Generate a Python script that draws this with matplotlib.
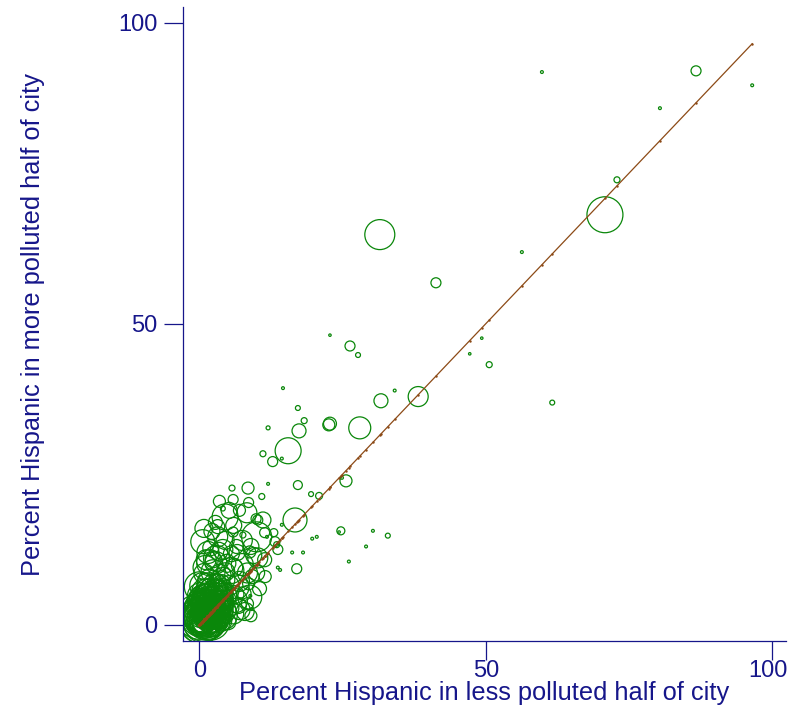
import numpy as np
import matplotlib.pyplot as plt
from matplotlib.transforms import ScaledTranslation

# % Hispanic in less / more polluted half of each city, and marker weight (city size)
pct_less = [
    59.8, 86.7, 96.5, 80.4, 72.9, 70.8, 56.3, 31.5, 41.3, 26.3,
    27.7, 22.8, 49.3, 47.2, 50.6, 34.1, 31.7, 38.2, 61.6, 14.6,
    17.2, 18.3, 22.8, 22.6, 28.0, 12.0, 17.4, 15.5, 11.1, 12.8,
    14.4, 25.6, 24.9, 12.0, 17.2, 19.5, 20.9, 10.9, 16.7, 14.4,
    24.7, 24.4, 30.3, 32.9, 29.1, 19.7, 20.5, 16.2, 18.1, 26.1,
    17.0, 13.7, 11.8, 11.1, 13.0, 13.5, 13.7, 11.4, 10.0,
    5.7, 8.5, 5.9, 4.1, 8.6, 4.5, 8.3, 9.9, 10.2, 3.2,
    0.6, 3.2, 5.9, 10.0, 7.6, 11.4, 13.2, 4.1, 6.6, 8.8,
    10.2, 2.4,
    8.8, 7.1, 4.1, 6.6, 1.8, 0.0, 8.4, 9.0, 8.9, 9.1, 14.1,
    0.3, 0.8, 1.2, 0.5, 1.8, 2.2, 1.5, 0.2, 2.8, 3.2,
    0.9, 2.0, 0.1, 1.0, 1.6, 2.5, 0.6, 3.0, 3.8, 2.7,
    1.3, 0.4, 1.9, 0.7, 1.4, 2.3, 1.1, 1.7, 0.2, 2.6,
    3.5, 4.2, 4.0, 3.1, 1.8, 0.6, 4.8, 5.2, 3.6, 2.4,
    0.8, 5.5, 4.5, 3.3, 0.0, 0.5, 1.1, 1.6, 2.0, 0.9,
    2.9, 1.4, 0.3, 2.2, 3.9, 4.6, 6.2, 7.0, 6.0, 2.9,
    1.2, 4.8, 5.6, 3.4, 6.8, 7.8, 8.6, 8.4, 9.2, 6.5,
    2.0,
    0.2, 0.6, 1.0, 0.4, 1.4, 0.9, 1.7, 0.3, 2.1, 1.3,
    2.4, 0.7, 1.9, 2.8, 3.4, 0.1, 1.0, 2.5, 3.6, 0.5,
    0.3, 0.8, 1.2, 0.6, 1.6, 1.1, 2.0, 0.4, 1.5, 2.3,
    0.2, 0.9, 1.8, 0.5, 1.3, 2.6, 1.0, 2.1, 0.7, 1.6,
    0.1, 0.0, 1.9, 2.9, 1.1, 0.4, 3.1, 2.3, 4.1, 3.9,
    0.8, 2.7, 4.4, 3.2, 1.5,
    1.5, 0.8, 2.2, 4.5, 6.0, 7.5, 2.8, 5.2, 3.5, 7.0,
    9.0, 1.0, 3.0, 5.5, 7.5, 9.5, 10.5, 11.5, 6.3, 8.0,
    5.0, 6.0,
    0.5, 1.0, 1.5, 2.0, 0.2, 1.2, 2.5, 0.8, 2.8, 1.8,
    3.5, 0.3, 3.8, 1.0, 1.8, 2.2, 3.0, 0.6, 1.2, 1.5,
    2.4, 0.4, 2.2, 1.4, 3.0, 0.9, 0.5, 2.0, 2.6, 1.2,
    0.6, 2.0, 1.6, 4.0, 2.8, 0.2, 3.4, 0.0, 1.0, 2.4,
]
pct_more = [
    91.8, 92.0, 89.6, 85.8, 73.9, 68.1, 61.9, 64.8, 56.8, 46.3,
    44.8, 48.1, 47.6, 45.0, 43.2, 38.9, 37.2, 37.9, 36.9, 39.3,
    36.0, 33.9, 33.4, 33.2, 32.7, 32.7, 32.2, 28.9, 28.4, 27.1,
    27.6, 23.9, 24.4, 23.4, 23.2, 21.7, 21.4, 21.3, 17.4, 16.6,
    15.6, 15.4, 15.6, 14.8, 13.0, 14.3, 14.6, 12.0, 12.0, 10.5,
    9.3, 9.5, 14.6, 17.4, 15.3, 13.3, 12.5, 10.8, 8.6,
    22.7, 22.7, 20.8, 19.3, 20.3, 17.9, 18.6, 17.6, 17.4, 16.3,
    13.8, 14.6, 15.4, 14.6, 14.9, 15.3, 13.8, 12.5, 12.0, 12.1,
    11.1, 10.8,
    4.6, 2.5, 7.5, 6.3, 10.3, 6.3, 8.6, 1.5, 4.8, 2.6, 9.1,
    0.2, 0.9, 1.8, 2.5, 1.2, 2.8, 3.5, 1.2, 1.8, 3.8,
    4.2, 4.8, 0.5, 0.3, 2.3, 0.8, 3.1, 2.6, 4.5, 5.5,
    5.8, 1.8, 0.2, 1.4, 1.0, 1.6, 2.7, 3.0, 3.8, 3.3,
    2.2, 3.4, 5.8, 6.8, 7.2, 6.5, 4.2, 6.5, 8.2, 8.8,
    8.5, 2.8, 1.5, 0.8, 0.0, 0.6, 1.2, 1.5, 2.1, 2.0,
    4.1, 4.6, 5.2, 6.2, 7.0, 8.8, 5.0, 7.2, 9.5, 10.3,
    10.8, 10.2, 11.8, 12.2, 3.2, 5.2, 6.8, 3.5, 8.0, 13.0,
    12.8,
    0.4, 0.2, 0.6, 1.0, 0.4, 1.6, 2.0, 2.2, 1.0, 2.9,
    2.2, 3.6, 3.8, 3.0, 1.2, 2.9, 4.9, 4.3, 3.1, 4.4,
    0.8, 0.4, 1.3, 1.9, 1.1, 2.2, 1.7, 2.8, 2.6, 3.0,
    0.1, 0.9, 0.7, 1.5, 0.2, 1.4, 3.2, 2.5, 2.5, 3.3,
    1.6, 0.9, 2.7, 2.4, 3.8, 3.3, 4.6, 5.3, 2.4, 0.6,
    5.6, 6.3, 4.9, 5.9, 6.8,
    12.0, 16.0, 15.5, 14.0, 16.5, 14.0, 17.0, 19.0, 20.5, 19.0,
    13.0, 9.5, 11.0, 9.0, 10.0, 11.5, 6.0, 8.0, 4.0, 2.2,
    0.5, 1.8,
    0.5, 1.0, 1.5, 2.0, 1.5, 0.2, 2.5, 2.8, 0.8, 3.5,
    1.8, 3.8, 0.3, 1.8, 1.0, 3.0, 2.2, 1.2, 0.6, 2.4,
    1.5, 2.2, 0.4, 3.0, 1.4, 0.5, 0.9, 2.6, 2.0, 1.2,
    2.0, 0.6, 4.0, 1.6, 3.8, 4.8, 5.0, 1.4, 2.4, 1.0,
]
pop = [
    2, 25, 2, 2, 9, 324, 2, 225, 25, 25,
    6, 1.5, 1.5, 1.5, 9, 2, 49, 100, 6, 2,
    6, 9, 42, 36, 121, 4, 49, 169, 9, 25,
    2, 36, 2, 2, 20, 6, 12, 9, 144, 2,
    16, 1.5, 2, 6, 2, 2, 2, 2, 2, 2,
    25, 2, 2, 64, 16, 9, 25, 49, 64,
    9, 36, 25, 6, 25, 169, 100, 25, 25, 49,
    144, 100, 25, 225, 9, 25, 25, 100, 64, 36,
    100, 64,
    144, 100, 144, 144, 169, 225, 100, 36, 2, 2, 2,
    400, 484, 576, 324, 361, 441, 289, 256, 225, 256,
    225, 196, 196, 169, 144, 144, 121, 169, 144, 144,
    121, 100, 100, 81, 64, 81, 100, 64, 81, 100,
    81, 100, 121, 100, 144, 169, 81, 100, 121, 144,
    100, 64, 64, 81, 49, 36, 25, 36, 25, 49,
    36, 49, 64, 49, 64, 81, 81, 100, 81, 121,
    100, 81, 64, 81, 64, 49, 36, 36, 49, 49,
    64,
    441, 361, 289, 225, 324, 400, 256, 196, 196, 225,
    169, 169, 144, 121, 121, 144, 121, 100, 144, 100,
    144, 121, 169, 144, 100, 81, 121, 81, 100, 81,
    100, 64, 81, 49, 64, 64, 64, 49, 36, 36,
    324, 289, 361, 289, 324, 256, 196, 225, 169, 100,
    144, 169, 144, 100, 121,
    121, 81, 64, 81, 64, 100, 49, 64, 36, 36,
    64, 144, 169, 169, 121, 64, 49, 36, 144, 81,
    64, 100,
    16, 9, 16, 9, 25, 25, 25, 25, 25, 36,
    36, 49, 49, 36, 36, 49, 49, 64, 64, 81,
    81, 121, 121, 169, 169, 225, 225, 196, 196, 484,
    400, 361, 289, 225, 256, 169, 196, 529, 100, 100,
]

NAVY = "#16168a"
GREEN = "#0a870a"
BROWN = "#8c4a16"

fig = plt.figure(figsize=(7.9, 7.09), dpi=100)
ax = fig.add_axes([0.2313, 0.0959, 0.7636, 0.8942])

x = np.array(pct_less)
y = np.array(pct_more)
w = np.array(pop)

ax.scatter(x, y, s=w * 2.07, facecolors="none", edgecolors=GREEN, linewidths=0.9)

# 45-degree reference line (fitted values at each observation)
xs = np.sort(x)
ax.plot(xs, xs, color=BROWN, linewidth=0.9, marker=".", markersize=1.5)

ax.set_xlim(-2.9, 102.4)
ax.set_ylim(-2.7, 102.6)
ax.set_xticks([0, 50, 100])
ax.set_yticks([0, 50, 100])

for side in ["top", "right"]:
    ax.spines[side].set_visible(False)
for side in ["left", "bottom"]:
    ax.spines[side].set_color(NAVY)
    ax.spines[side].set_linewidth(0.9)

ax.tick_params(axis="both", colors=NAVY, labelcolor=NAVY, length=14, width=0.9,
               labelsize=17)
ax.tick_params(axis="y", pad=4)
ax.tick_params(axis="x", pad=0)
for lab in ax.get_xticklabels() + ax.get_yticklabels():
    lab.set_fontfamily("Liberation Sans")
last = ax.get_xticklabels()[-1]
last.set_transform(last.get_transform() + ScaledTranslation(-0.04, 0, fig.dpi_scale_trans))

ax.set_xlabel("Percent Hispanic in less polluted half of city", fontsize=18.3,
              color=NAVY, family="Liberation Sans", labelpad=-1)
ax.set_ylabel("Percent Hispanic in more polluted half of city", fontsize=18.3,
              color=NAVY, family="Liberation Sans", labelpad=53)

plt.savefig("out.png", dpi=100)
